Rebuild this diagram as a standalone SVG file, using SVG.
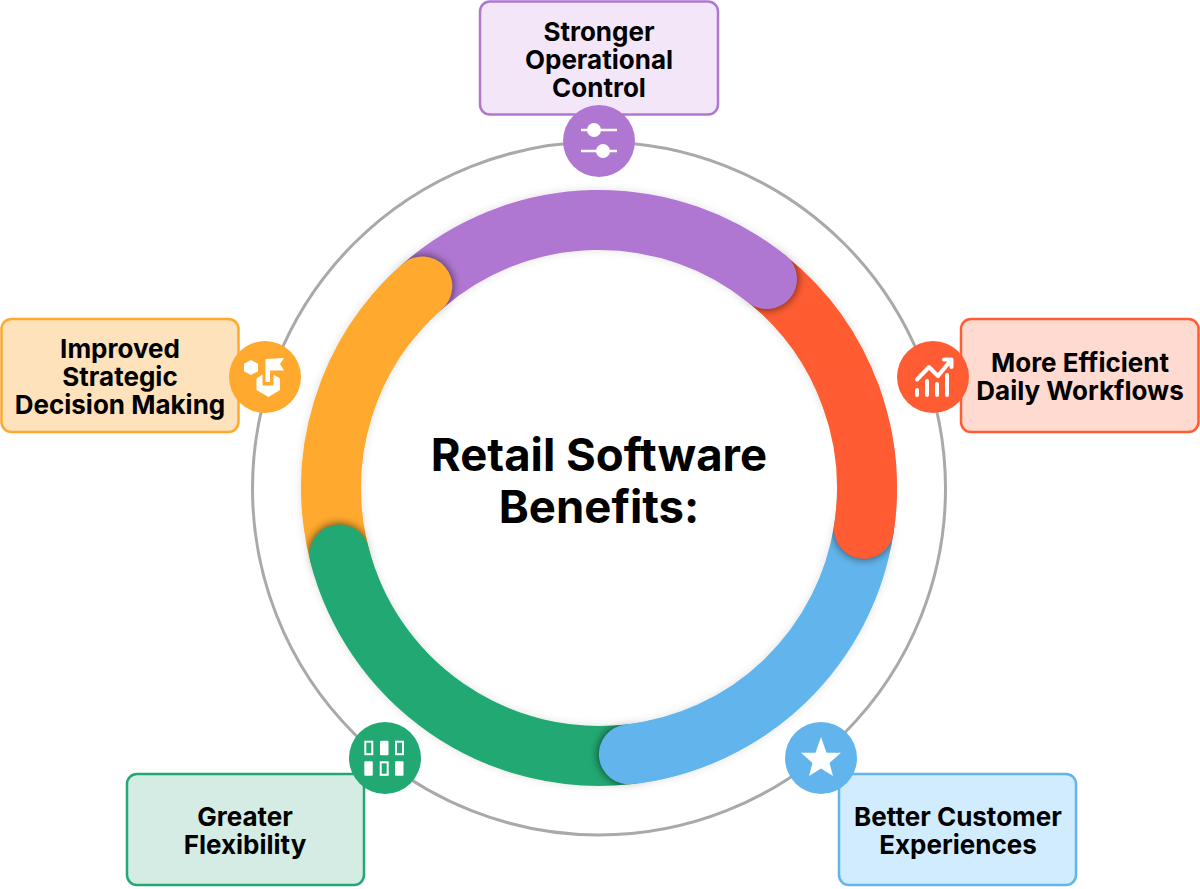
<svg xmlns="http://www.w3.org/2000/svg" width="1200" height="889" viewBox="0 0 1200 889">
<style>
.label{font-family:Inter,"Noto Sans","Liberation Sans",sans-serif;font-weight:700;font-size:26px;fill:#000;text-anchor:middle}
.title{font-family:Inter,"Noto Sans","Liberation Sans",sans-serif;font-weight:700;font-size:45.500px;fill:#000;text-anchor:middle}
.arc{fill:none;stroke-width:60;stroke-linecap:round}
.sh{filter:url(#shadow)}
.capsh{fill:none;stroke:#000;stroke-width:60;stroke-linecap:round;stroke-opacity:.6;filter:url(#blur)}
.box{stroke-width:2.5}
.w{fill:#fff}
.wl{fill:none;stroke:#fff}
</style>
<defs>
<filter id="shadow" x="0" y="0" width="1200" height="889" filterUnits="userSpaceOnUse">
<feDropShadow dx="0" dy="0" stdDeviation="4" flood-color="#000" flood-opacity="0.12"/>
</filter>
<filter id="blur" x="0" y="0" width="1200" height="889" filterUnits="userSpaceOnUse">
<feGaussianBlur stdDeviation="5"/>
</filter>
<clipPath id="band"><path clip-rule="evenodd" d="M599 190a298 298 0 1 1 0 596a298 298 0 1 1 0-596ZM599 250a238 238 0 1 0 0 476a238 238 0 1 0 0-476Z"/></clipPath>
</defs>
<rect width="1200" height="889" fill="#fff"/>
<g id="connectors">
<circle cx="599" cy="488.500" r="346.500" fill="none" stroke="#a9a9a9" stroke-width="3"/>
<path class="arc sh" stroke="#ff5c33" d="M767 279A268 268 0 0 1 850.800 396.300"/>
<g clip-path="url(#band)"><path class="capsh" d="M742.600 261.800A268 268 0 0 1 767 279"/></g>
<path class="arc sh" stroke="#b077d2" d="M422.300 286.500A268 268 0 0 1 767 279"/>
<g clip-path="url(#band)"><path class="capsh" d="M400.900 307.500A268 268 0 0 1 422.300 286.500"/></g>
<path class="arc sh" stroke="#ffa92e" d="M339.500 554.600A268 268 0 0 1 422.300 286.500"/>
<g clip-path="url(#band)"><path class="capsh" d="M348.500 583.200A268 268 0 0 1 339.500 554.600"/></g>
<path class="arc sh" stroke="#22a873" d="M628.900 754.300A268 268 0 0 1 339.500 554.600"/>
<g clip-path="url(#band)"><path class="capsh" d="M658.400 749.300A268 268 0 0 1 628.900 754.300"/></g>
<path class="arc sh" stroke="#62b5ec" d="M863.900 528.800A268 268 0 0 1 628.900 754.300"/>
<g clip-path="url(#band)"><path class="capsh" d="M866.800 499A268 268 0 0 1 863.900 528.800"/></g>
<path class="arc" stroke="#ff5c33" d="M850.800 396.300A268 268 0 0 1 863.900 528.800"/>
</g>
<g id="center-title">
<text class="title" x="599" y="470.500">Retail Software</text>
<text class="title" x="599" y="522.500">Benefits:</text>
</g>
<g id="node-control">
<rect class="box" x="480" y="1.500" width="238" height="113" rx="10" fill="#f3e6f8" stroke="#b077d2"/>
<text class="label" x="599" y="40.500">Stronger</text>
<text class="label" x="599" y="68.500">Operational</text>
<text class="label" x="599" y="96.500">Control</text>
<circle cx="599" cy="141" r="36" fill="#b077d2"/>
<path class="wl" stroke-width="2.500" d="M581 130H617M581 151H617"/>
<circle class="w" cx="594" cy="130" r="7"/>
<circle class="w" cx="603" cy="151" r="7"/>
</g>
<g id="node-decision">
<rect class="box" x="1.500" y="319" width="237" height="113" rx="10" fill="#fde2bb" stroke="#ffa92e"/>
<text class="label" x="120" y="357.500">Improved</text>
<text class="label" x="120" y="385.500">Strategic</text>
<text class="label" x="120" y="413.500">Decision Making</text>
<circle cx="265" cy="377" r="36" fill="#ffa92e"/>
<polygon class="w" points="251,360 258,363.700 258,371.300 251,375 244,371.300 244,363.700"/>
<polygon class="w" points="265.500,359 284,358 280,364 284,370.500 270,370.500 270,382 265.500,382"/>
<polygon class="w" points="256.500,378.500 262.500,374.500 262.500,385.500 273.500,385.500 273.500,374.500 280,378.500 280,390 268.500,397 256.500,390"/>
</g>
<g id="node-workflows">
<rect class="box" x="961" y="319" width="237.500" height="113" rx="10" fill="#ffdad1" stroke="#ff5c33"/>
<text class="label" x="1080" y="371.500">More Efficient</text>
<text class="label" x="1080" y="399.500">Daily Workflows</text>
<circle cx="933" cy="377" r="36" fill="#ff5c33"/>
<path class="wl" stroke-width="4" stroke-linecap="round" stroke-linejoin="round" d="M917 395V390M927 395V381M937 395V384M947 395V375M917 379.500L929 367L938 376L951 360M944 359.500H951.500V367"/>
</g>
<g id="node-customer">
<rect class="box" x="839" y="774" width="237" height="111" rx="10" fill="#d1ecff" stroke="#62b5ec"/>
<text class="label" x="958" y="825.500">Better Customer</text>
<text class="label" x="958" y="853.500">Experiences</text>
<circle cx="821" cy="758" r="36" fill="#62b5ec"/>
<polygon class="w" points="821,737 826.500,752.700 841,752.700 829.500,763 833,776 821,768.500 809,776 812.500,763 801,752.700 815.500,752.700"/>
</g>
<g id="node-flexibility">
<rect class="box" x="127" y="774" width="237" height="111" rx="10" fill="#d5ece4" stroke="#22a873"/>
<text class="label" x="245" y="825.500">Greater</text>
<text class="label" x="245" y="853.500">Flexibility</text>
<circle cx="385" cy="758" r="36" fill="#22a873"/>
<rect class="wl" stroke-width="2" x="365.300" y="741.700" width="7" height="12.500"/>
<rect class="w" x="380" y="740.700" width="8.500" height="14.500" rx="1"/>
<rect class="wl" stroke-width="2" x="396" y="741.700" width="7" height="12.500"/>
<rect class="w" x="364.300" y="761.300" width="8.500" height="14.500" rx="1"/>
<rect class="wl" stroke-width="2" x="380.700" y="762.300" width="7" height="12.500"/>
<rect class="w" x="395" y="761.300" width="8.500" height="14.500" rx="1"/>
</g>
</svg>
